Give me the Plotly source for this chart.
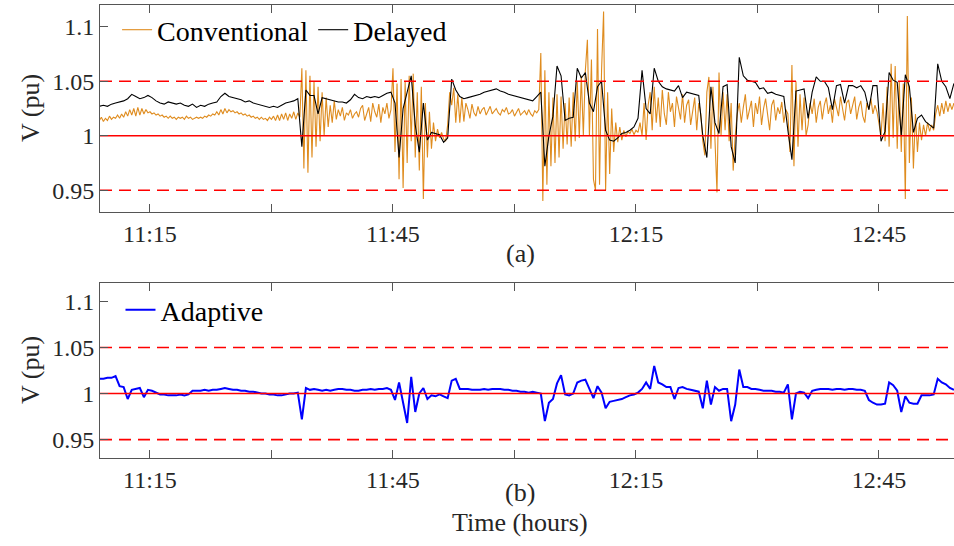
import numpy as np
import plotly.graph_objects as go
from plotly.subplots import make_subplots

# ---- data (time in minutes after midnight, voltage in milli-pu) ----
T0 = 668.75           # first sample time (11:08:45)
DT_FINE = 0.25        # conventional sampling step (min)
DT_COARSE = 0.5       # delayed / adaptive sampling step (min)

conventional_mpu = [
    1014,1017,1013,1016,1014,1018,1015,1017,1016,1019,
    1016,1020,1017,1022,1018,1024,1019,1025,1018,1026,
    1019,1025,1020,1024,1021,1022,1020,1021,1019,1020,
    1018,1019,1017,1018,1016,1018,1016,1017,1015,1017,
    1016,1017,1015,1018,1016,1017,1015,1016,1017,1016,
    1017,1016,1018,1017,1019,1018,1020,1019,1022,1019,
    1024,1020,1025,1021,1024,1022,1023,1021,1022,1020,
    1021,1019,1020,1018,1019,1017,1018,1016,1017,1015,
    1017,1015,1016,1014,1017,1015,1018,1014,1019,1014,
    1020,1015,1021,1014,1020,1016,1022,1015,1021,1017,
    1062,970,1060,966,1055,980,1050,990,1045,995,
    1040,1000,1035,1008,1028,1012,1032,1015,1024,1018,
    1026,1014,1021,1019,1024,1016,1020,1022,1017,1025,
    1028,1014,1020,1026,1013,1030,1022,1017,1029,1012,
    1026,1020,1030,1016,1024,1062,985,1048,960,1052,
    952,1050,975,1055,995,1057,980,1040,968,1045,
    942,1030,980,1022,988,1012,995,1006,998,1003,
    997,995,1010,1040,1028,1044,1012,1038,1012,1035,
    1013,1030,1024,1016,1029,1021,1018,1027,1020,1024,
    1026,1019,1023,1027,1020,1022,1025,1021,1019,1024,
    1022,1026,1020,1021,1024,1018,1022,1025,1019,1021,
    1023,1019,1024,1020,1018,1023,1021,1024,1076,940,
    1060,955,1040,972,1035,975,1038,980,1036,988,
    1030,992,1035,990,1040,995,1050,998,1055,1000,
    1060,1088,1000,1070,960,950,1098,955,1060,1114,
    950,1040,965,1025,985,1012,994,1008,996,1005,
    999,1004,1002,1006,1001,1005,1003,1012,1000,1030,
    996,1028,1040,1005,1045,1012,1035,1008,1042,1020,
    1010,1040,1022,1030,1008,1036,1025,1015,1038,1012,
    1028,1033,1010,1024,1035,1005,1030,1020,995,982,
    1040,1054,988,1045,1000,948,1058,1000,1040,1005,
    1038,995,1030,968,1000,1020,1030,1012,1026,1038,
    1015,1024,1032,1008,1030,1020,1036,1010,1025,1034,
    1018,1005,1028,1033,1014,1026,1020,1031,1012,1024,
    1020,985,1065,972,1050,990,1038,1005,1035,1000,
    1010,1030,1020,1034,1012,1026,1032,1015,1028,1035,
    1020,1028,1012,1034,1026,1018,1036,1024,1014,1030,
    1033,1020,1028,1036,1015,1026,1032,1018,1012,1030,
    1024,1034,1020,1028,1022,1010,1000,1030,995,1045,
    990,1066,998,1064,988,1050,985,1048,942,1110,
    975,1035,970,1020,985,1012,996,1010,1000,1012,
    1004,1010,1005,1020,1028,1018,1030,1020,1032,1022,
    1030,1024,1030,
]

delayed_mpu = [
    1027,1028,1027,1029,1030,1031,1032,1034,1038,1036,
    1034,1035,1037,1035,1032,1030,1029,1031,1030,1029,
    1030,1028,1027,1029,1026,1028,1027,1029,1030,1031,
    1036,1039,1036,1035,1034,1033,1031,1032,1030,1029,
    1028,1027,1026,1027,1026,1028,1030,1031,1032,1034,
    990,1042,1037,1037,1020,1035,1034,1033,1032,1031,
    1031,1030,1033,1038,1035,1034,1036,1035,1036,1035,
    1037,1039,1040,1030,980,1025,1040,1055,1010,985,
    1030,996,1003,1002,1001,994,998,1052,1042,1036,
    1034,1035,1036,1037,1038,1040,1041,1042,1043,1041,
    1040,1038,1037,1036,1035,1034,1033,1032,1036,1040,
    972,1000,1018,1064,1055,1014,1016,1017,1062,1053,
    1058,1030,1022,1045,1050,1005,996,995,998,1002,
    1003,1005,1008,1016,1060,1025,1020,1062,1050,1045,
    1043,1042,1041,1046,1035,1040,1039,1038,1037,1000,
    980,1045,1012,1002,1045,1047,990,975,1072,1055,
    1051,1050,1049,1043,1044,1039,1040,1038,1037,1036,
    1005,978,1041,1042,1043,1016,1040,1054,1050,1050,
    1044,1024,1046,1047,1030,1046,1046,1044,1046,1040,
    1024,1046,1046,995,1004,1058,1051,1049,1000,1056,
    1045,1003,1016,1019,1013,1010,1007,1066,1050,1045,
    1034,1048,
]

adaptive_mpu = [
    1016,1016,1017,1017,1019,1008,1007,994,1004,1005,
    1006,996,1004,1003,1001,999,999,998,998,998,
    999,998,999,1003,1003,1003,1004,1003,1004,1004,
    1005,1006,1005,1004,1004,1003,1003,1002,1002,1001,
    1000,1000,999,999,998,998,999,1000,1000,1001,
    972,1006,1004,1005,1004,1003,1004,1003,1004,1005,
    1005,1004,1004,1003,1003,1004,1004,1005,1004,1005,
    1005,1006,1004,993,1012,990,968,1018,980,1000,
    1006,994,998,997,999,997,995,1014,1016,1005,
    1005,1005,1004,1004,1004,1005,1004,1005,1005,1005,
    1004,1004,1003,1003,1002,1002,1001,1002,1001,1000,
    970,990,994,1011,1020,999,998,1000,1012,1014,
    1015,1005,995,1008,1001,984,991,992,993,994,
    996,998,999,1001,1005,1012,1005,1030,1012,1010,
    1007,1007,994,1006,1007,1005,1004,1003,1002,984,
    1014,988,1007,1003,1005,1005,970,988,1026,1007,
    1007,1005,1005,1004,1003,1003,1003,1002,1002,1001,
    1010,972,1000,1002,1001,995,1003,1004,1005,1005,
    1005,1004,1005,1005,1004,1005,1005,1004,1004,1003,
    993,990,988,988,989,1012,1009,1003,980,997,
    990,989,989,998,998,998,999,1016,1012,1010,
    1006,1004,
]

limit_levels = [0.95, 1.0, 1.05]
limit_dash = ["12px,7px", "solid", "12px,7px"]
x_range = [668.83, 774.26]
tick_vals = [675, 690, 705, 720, 735, 750, 765]
tick_text = ["11:15", "", "11:45", "", "12:15", "", "12:45"]
y_ticks = [0.95, 1.0, 1.05, 1.1]
y_ticktext = ["0.95", "1", "1.05", "1.1"]
y_range = [0.93, 1.12]

t_fine = T0 + DT_FINE * np.arange(len(conventional_mpu))
t_coarse = T0 + DT_COARSE * np.arange(len(delayed_mpu))
t_adapt = T0 + DT_COARSE * np.arange(len(adaptive_mpu))
v_conv = np.array(conventional_mpu) / 1000.0
v_del = np.array(delayed_mpu) / 1000.0
v_adp = np.array(adaptive_mpu) / 1000.0

FONT = "Liberation Serif, Times New Roman, serif"
AX = "#262626"
ORANGE = "#DF8C1F"

fig = make_subplots(rows=2, cols=1, shared_xaxes=False, vertical_spacing=0.0)

fig.add_trace(go.Scatter(x=t_fine, y=v_conv, mode="lines", name="Conventional",
                         line=dict(color=ORANGE, width=1.1), legend="legend"), row=1, col=1)
fig.add_trace(go.Scatter(x=t_coarse, y=v_del, mode="lines", name="Delayed",
                         line=dict(color="black", width=1.1), legend="legend"), row=1, col=1)
fig.add_trace(go.Scatter(x=t_adapt, y=v_adp, mode="lines", name="Adaptive",
                         line=dict(color="#0000FF", width=2), legend="legend2"), row=2, col=1)

for r in (1, 2):
    for lv, ds in zip(limit_levels, limit_dash):
        fig.add_trace(go.Scatter(x=x_range, y=[lv, lv], mode="lines", showlegend=False,
                                 hoverinfo="skip",
                                 line=dict(color="#FF0000", width=1.6, dash=ds)), row=r, col=1)

axis_common = dict(showgrid=False, zeroline=False, showline=True, linecolor="#555555",
                   linewidth=1, ticks="inside", ticklen=8, tickcolor="#555555",
                   tickfont=dict(family=FONT, size=24, color=AX))

fig.update_xaxes(range=x_range, tickmode="array", tickvals=tick_vals, ticktext=tick_text,
                 mirror="ticks", **axis_common)
fig.update_yaxes(range=y_range, tickmode="array", tickvals=y_ticks, ticktext=y_ticktext,
                 mirror=False, **axis_common)

H = 546
top_px, bot_px = 5, 458
span = bot_px - top_px
def fy(py):
    return (bot_px - py) / span

fig.update_layout(
    width=954, height=H,
    margin=dict(l=100, r=0, t=top_px, b=H - bot_px),
    paper_bgcolor="white", plot_bgcolor="white",
    yaxis=dict(domain=[fy(212), 1.0]),
    yaxis2=dict(domain=[0.0, fy(283)]),
    font=dict(family=FONT, size=24, color="black"),
    legend=dict(orientation="h", x=0.02, y=fy(5), xanchor="left", yanchor="top",
                bgcolor="rgba(0,0,0,0)", font=dict(family=FONT, size=28, color="black"),
                itemwidth=30, tracegroupgap=0),
    legend2=dict(orientation="h", x=0.024, y=fy(285), xanchor="left", yanchor="top",
                 bgcolor="rgba(0,0,0,0)", font=dict(family=FONT, size=28, color="black"),
                 itemwidth=30),
    showlegend=True,
)

def fx(px):
    return (px - 100) / 854

annots = [
    dict(text="(a)", x=fx(520), y=fy(253), textangle=0),
    dict(text="(b)", x=fx(520), y=fy(492), textangle=0),
    dict(text="Time (hours)", x=fx(520), y=fy(522), textangle=0),
    dict(text="V (pu)", x=fx(30), y=fy(108), textangle=-90),
    dict(text="V (pu)", x=fx(30), y=fy(370), textangle=-90),
]
for a in annots:
    fig.add_annotation(xref="paper", yref="paper", showarrow=False,
                       xanchor="center", yanchor="middle",
                       font=dict(family=FONT, size=26, color=AX), **a)

fig.write_html("out.html")
